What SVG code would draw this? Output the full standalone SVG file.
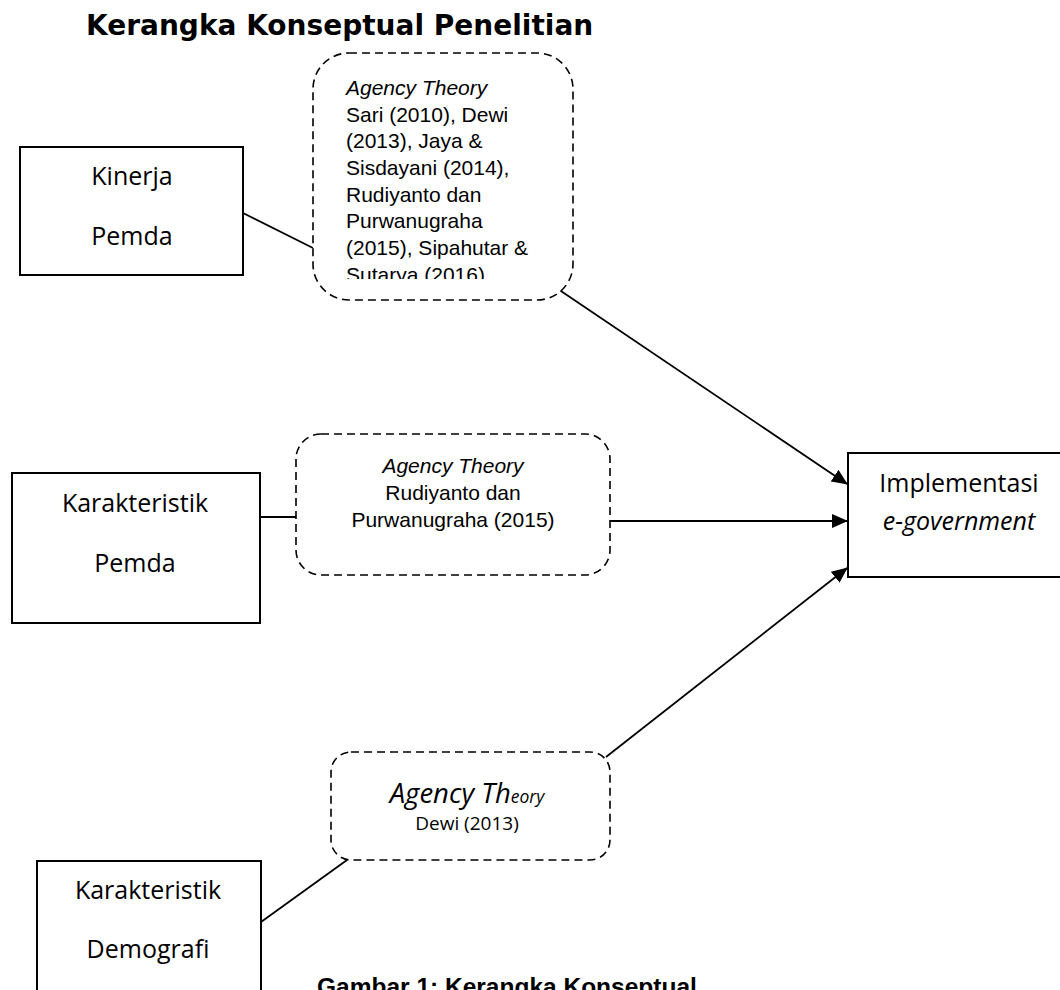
<svg xmlns="http://www.w3.org/2000/svg" width="1060" height="990" viewBox="0 0 1060 990">
<style>
.box{fill:#fff;stroke:#000;stroke-width:2}
.dash{fill:#fff;stroke:#000;stroke-width:1.6;stroke-dasharray:8 5}
.lbl{font-family:"Open Sans","Noto Sans",sans-serif;font-size:25px;fill:#000;text-anchor:middle}
.ar{font-family:"Liberation Sans",Arial,sans-serif;font-size:21px;fill:#000}
.ln{stroke:#000;stroke-width:1.8;fill:none}
.title{font-family:"DejaVu Sans",Verdana,sans-serif;font-weight:bold;font-size:28px;fill:#000}
.cap{font-family:"Liberation Sans",Arial,sans-serif;font-weight:bold;font-size:24.5px;fill:#000}
</style>
<defs>
<marker id="arr" markerWidth="16" markerHeight="14" refX="15" refY="7" orient="auto" markerUnits="userSpaceOnUse">
<path d="M0,0 L16,7 L0,14 Z" fill="#000"/>
</marker>
<clipPath id="clip1"><rect x="314" y="54" width="258" height="225"/></clipPath>
</defs>
<rect width="1060" height="990" fill="#fff"/>
<text class="title" x="86" y="35">Kerangka Konseptual Penelitian</text>

<g id="connectors">
<line class="ln" x1="243" y1="213" x2="313" y2="248"/>
<line class="ln" x1="552" y1="285" x2="847" y2="484" marker-end="url(#arr)"/>
<line class="ln" x1="260" y1="517" x2="296" y2="517"/>
<line class="ln" x1="610" y1="521" x2="847" y2="521" marker-end="url(#arr)"/>
<line class="ln" x1="261" y1="922" x2="347" y2="860"/>
<line class="ln" x1="606" y1="757" x2="847" y2="568" marker-end="url(#arr)"/>
</g>

<g id="kinerja">
<rect class="box" x="20" y="147" width="223" height="128"/>
<text class="lbl" x="132" y="185">Kinerja</text>
<text class="lbl" x="132" y="245">Pemda</text>
</g>

<g id="agency1">
<rect class="dash" x="313" y="53" width="260" height="247" rx="36" ry="36"/>
<g clip-path="url(#clip1)">
<text class="ar" x="346" y="95" font-style="italic">Agency Theory</text>
<text class="ar" x="346" y="122">Sari (2010), Dewi</text>
<text class="ar" x="346" y="148">(2013), Jaya &amp;</text>
<text class="ar" x="346" y="175">Sisdayani (2014),</text>
<text class="ar" x="346" y="202">Rudiyanto dan</text>
<text class="ar" x="346" y="228">Purwanugraha</text>
<text class="ar" x="346" y="255">(2015), Sipahutar &amp;</text>
<text class="ar" x="346" y="282">Sutarya (2016)</text>
</g>
</g>

<g id="karakteristik-pemda">
<rect class="box" x="12" y="473" width="248" height="150"/>
<text class="lbl" x="135" y="512">Karakteristik</text>
<text class="lbl" x="135" y="572">Pemda</text>
</g>

<g id="agency2">
<rect class="dash" x="296" y="434" width="314" height="141" rx="25" ry="25"/>
<text class="ar" x="453" y="473" text-anchor="middle" font-style="italic">Agency Theory</text>
<text class="ar" x="453" y="500" text-anchor="middle">Rudiyanto dan</text>
<text class="ar" x="453" y="527" text-anchor="middle">Purwanugraha (2015)</text>
</g>

<g id="implementasi">
<rect class="box" x="848" y="453" width="230" height="124"/>
<text class="lbl" x="959" y="492">Implementasi</text>
<text class="lbl" x="959" y="530" font-style="italic">e-government</text>
</g>

<g id="agency3">
<rect class="dash" x="331" y="752" width="279" height="108" rx="20" ry="20"/>
<text class="lbl" x="467" y="803" style="font-style:italic;font-size:27.5px">Agency Th<tspan style="font-size:17.5px">eory</tspan></text>
<text class="lbl" x="467" y="830" style="font-size:19px">Dewi (2013)</text>
</g>

<g id="karakteristik-demografi">
<rect class="box" x="37" y="861" width="224" height="200"/>
<text class="lbl" x="148" y="899">Karakteristik</text>
<text class="lbl" x="148" y="958">Demografi</text>
</g>

<text class="cap" x="317" y="995">Gambar 1: Kerangka Konseptual</text>
</svg>
